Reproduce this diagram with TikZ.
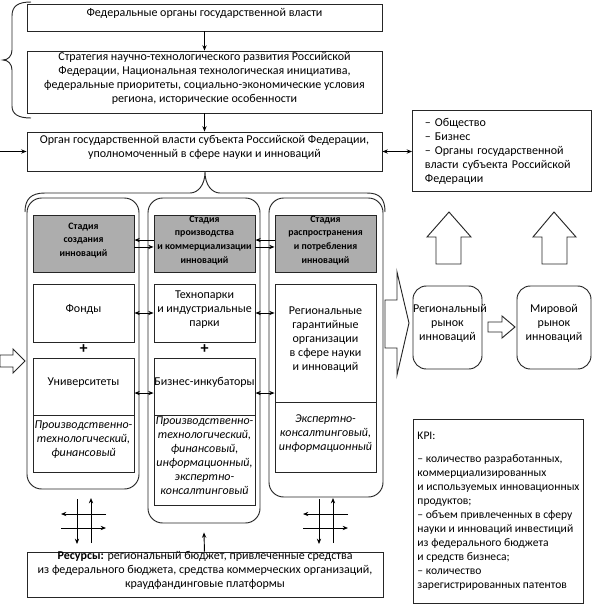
\documentclass[tikz,border=0pt]{standalone}
\usepackage{fontspec}
\setmainfont{Carlito}
\usetikzlibrary{arrows.meta,fit}

\tikzset{
  box/.style={draw=black!85, line width=0.7pt, inner sep=0pt, align=center, font=\fontsize{9}{10.5}\selectfont},
  listbox/.style={draw=black!85, line width=0.7pt, inner sep=0pt, align=left, anchor=north west, font=\fontsize{9}{10.5}\selectfont},
  stagebox/.style={box, fill=black!32, font=\fontsize{7.4}{10.2}\selectfont\bfseries},
  kindbox/.style={box, font=\fontsize{9}{10.5}\selectfont\itshape},
  stagecol/.style={draw=black!85, line width=0.7pt, rounded corners=11pt, inner sep=0pt},
  market/.style={box, rounded corners=10pt},
  arr/.style={-{Stealth[length=4pt,width=3.2pt]}, line width=0.7pt},
  dblarr/.style={{Stealth[length=4pt,width=3.2pt]}-{Stealth[length=4pt,width=3.2pt]}, line width=0.7pt},
  blockarr/.style={draw=black!85, line width=0.7pt, fill=white},
  bracepath/.style={draw=black!85, line width=0.7pt},
  hashcross/.pic={
    \draw[arr] (-7,22) -- (-7,-23);
    \draw[arr] (7,-22) -- (7,23);
    \draw[arr] (-23,-7) -- (22,-7);
    \draw[arr] (22,7) -- (-23,7);
  }
}

\begin{document}
\begin{tikzpicture}[x=0.75pt,y=0.75pt,yscale=-1,xscale=1]
\useasboundingbox (0,0) rectangle (592,607);

% federal level
\node[box, fit={(27,4) (382,31)}] (fed) {Федеральные органы государственной власти};
\node[box, fit={(27,51) (382,113)}] (strat) {Стратегия научно-технологического развития Российской\\
  Федерации, Национальная технологическая инициатива,\\
  федеральные приоритеты, социально-экономические условия\\
  региона, исторические особенности};
\node[box, fit={(27,132) (382,171)}] (organ) {Орган государственной власти субъекта Российской Федерации,\\
  уполномоченный в сфере науки и инноваций};
\node[listbox, minimum width=134.25pt, minimum height=60.75pt, text width=115.5pt] (soc) at (412,110)
  {– Общество\\ – Бизнес\\ – Органы государственной\\ власти субъекта Российской\\ Федерации};

\draw[arr] (fed) -- (strat);
\draw[arr] (strat) -- (organ);
\coordinate (lin) at (0,151.5);
\draw[arr] (lin) -- (organ.west);
\draw[dblarr] (organ.east) -- (organ.east -| soc.west);

% braces
\draw[bracepath] (31,2) .. controls (18,2) and (12,6) .. (12,16) -- (12,50) .. controls (12,56) and (8,60) .. (3,60)
  .. controls (8,60) and (12,64) .. (12,70) -- (12,106) .. controls (12,114) and (18,118) .. (31,118);
\draw[bracepath] (25,212) .. controls (25,199) and (31,193) .. (45,193) -- (190,193) .. controls (198,193) and (205,185) .. (205,172)
  .. controls (205,185) and (212,193) .. (220,193) -- (367,193) .. controls (380,193) and (385,199) .. (385,212);

% stage columns
\node[stagecol, fit={(27,198) (139,489)}] (col1) {};
\node[stagecol, fit={(148,198) (260,523)}] (col2) {};
\node[stagecol, fit={(269,198) (383,497)}] (col3) {};

\node[stagebox, fit={(33,215) (134,272)}] (st1) {Стадия\\ создания\\ инноваций};
\node[stagebox, fit={(154,215) (255,272)}] (st2) {Стадия\\ производства\\ и коммерциализации\\ инноваций};
\node[stagebox, fit={(275,215) (376,272)}] (st3) {Стадия\\ распространения\\ и потребления\\ инноваций};

\node[box, fit={(33,284) (134,342)}] (fund) {Фонды};
\node[box, text height=7pt, text depth=10.8pt, fit={(33,358) (134,415)}] (univ) {Университеты};
\node[kindbox, fit={(33,415) (134,472)}] (univf) {Производственно-\\ технологический,\\ финансовый};
\node[box, fit={(154,284) (255,342)}] (park) {Технопарки\\ и индустриальные\\ парки};
\node[box, text height=19.7pt, text depth=2.5pt, fit={(154,358) (255,415)}] (incub) {Бизнес-инкубаторы};
\node[kindbox, fit={(154,415) (255,505)}] (incubf) {Производственно-\\ технологический,\\ финансовый,\\ информационный,\\ экспертно-\\ консалтинговый};
\node[box, fit={(275,284) (376,402)}] (guar) {Региональные\\ гарантийные\\ организации\\ в сфере науки\\ и инноваций};
\node[kindbox, fit={(275,402) (376,472)}] (guarf) {Экспертно-\\ консалтинговый,\\ информационный};

\node[font=\large\bfseries] (plus1) at (83.5,349) {+};
\node[font=\large\bfseries] (plus2) at (204.5,349) {+};

\draw[arr] ([yshift=-2.6pt]st2.west) -- ([yshift=-2.6pt]st1.east);
\draw[arr] ([yshift=2.6pt]st1.east) -- ([yshift=2.6pt]st2.west);
\draw[arr] ([yshift=-2.6pt]st3.west) -- ([yshift=-2.6pt]st2.east);
\draw[arr] ([yshift=2.6pt]st2.east) -- ([yshift=2.6pt]st3.west);
\draw[dblarr] (fund.east) -- (park.west);
\draw[dblarr] (park.east) -- (park.east -| guar.west);
\draw[dblarr] ([yshift=4.9pt]univ.east) -- ([yshift=4.9pt]incub.west);
\draw[dblarr] ([yshift=4.9pt]incub.east) -- ([yshift=4.9pt]incub.east -| guar.west);

% markets
\node[market, fit={(413,286) (482,369)}] (regm) {Региональный\\ рынок\\ инноваций};
\node[market, fit={(517,286) (591,369)}] (worldm) {Мировой\\ рынок\\ инноваций};

\draw[blockarr] (0,355) -- (13,355) -- (13,349) -- (25,361) -- (13,373) -- (13,367) -- (0,367) -- cycle;
\draw[blockarr] (385,300) -- (397,300) -- (397,272) -- (409,323) -- (397,375) -- (397,348) -- (385,348) -- cycle;
\draw[blockarr] (488,322) -- (502,322) -- (502,316) -- (515,327) -- (502,338) -- (502,332) -- (488,332) -- cycle;
\draw[blockarr] (436,264) -- (436,237) -- (427,237) -- (449,212) -- (471,237) -- (461,237) -- (461,264) -- cycle;
\draw[blockarr] (542,264) -- (542,237) -- (533,237) -- (554,212) -- (576,237) -- (567,237) -- (567,264) -- cycle;

% KPI and resources
\node[listbox, minimum width=127.5pt, minimum height=138pt, font=\fontsize{8.7}{10.5}\selectfont] (kpi) at (413,419) {KPI:\\[7pt]
  – количество разработанных,\\ коммерциализированных\\ и используемых инновационных\\ продуктов;\\
  – объем привлеченных в сферу\\ науки и инноваций инвестиций\\ из федерального бюджета\\ и средств бизнеса;\\
  – количество\\ зарегистрированных патентов};
\node[box, fit={(27,552) (383,597)}] (res) {\textbf{Ресурсы:} региональный бюджет, привлеченные средства\\
  из федерального бюджета, средства коммерческих организаций,\\ краудфандинговые платформы};

\draw[arr] (res) -- ([yshift=6.75pt]col2.south);
\pic at (84,521) {hashcross};
\pic at (326,521) {hashcross};
\end{tikzpicture}
\end{document}
